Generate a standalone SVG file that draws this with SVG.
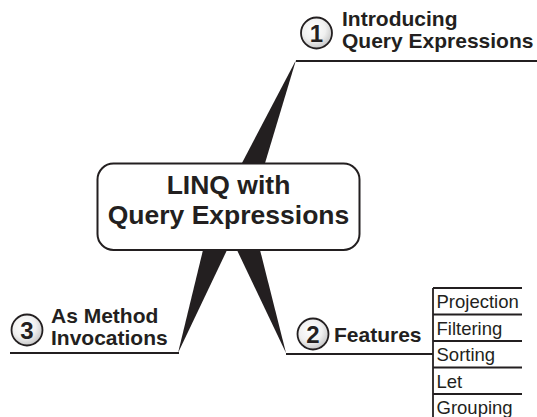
<svg xmlns="http://www.w3.org/2000/svg" width="537" height="417" viewBox="0 0 537 417">
<defs>
<radialGradient id="g" cx="0.42" cy="0.38" r="0.62">
<stop offset="0" stop-color="#ffffff"/>
<stop offset="0.6" stop-color="#f0f0f0"/>
<stop offset="1" stop-color="#c8c8c8"/>
</radialGradient>
</defs>
<style>
text{font-family:"Liberation Sans",Arial,sans-serif;fill:#231f20}
.t{font-size:21px;font-weight:bold}
.c{font-size:26.5px;font-weight:bold;text-anchor:middle}
.d{font-size:24px;font-weight:bold;text-anchor:middle}
.l{font-size:18.5px}
.num{fill:url(#g);stroke:#231f20;stroke-width:1.8}
.ln{stroke:#231f20;stroke-width:1.8;fill:none}
.w{fill:#231f20}
</style>
<g id="connectors">
<polygon class="w" points="296,60 222.6,200 253.9,200"/>
<polygon class="w" points="178,353 211.5,215 243.7,215"/>
<polygon class="w" points="286,353 220.3,215 251.2,215"/>
<line class="ln" x1="296" y1="61" x2="537" y2="61"/>
<line class="ln" x1="10" y1="353" x2="179" y2="353"/>
<line class="ln" x1="286" y1="354" x2="433" y2="354"/>
<line class="ln" x1="433" y1="288" x2="433" y2="417"/>
</g>
<g id="center">
<rect x="97.5" y="163.5" width="262" height="86.5" rx="16" fill="#ffffff" stroke="#231f20" stroke-width="2"/>
<text class="c" x="228.5" y="194">LINQ with</text>
<text class="c" x="228.5" y="224">Query Expressions</text>
</g>
<g id="node1">
<circle class="num" cx="316.5" cy="33" r="15.5"/>
<text class="d" x="316.5" y="41.5">1</text>
<text class="t" x="342" y="26">Introducing</text>
<text class="t" x="342" y="48">Query Expressions</text>
</g>
<g id="node3">
<circle class="num" cx="27" cy="330" r="15.5"/>
<text class="d" x="27" y="338.5">3</text>
<text class="t" x="51" y="323">As Method</text>
<text class="t" x="51" y="345">Invocations</text>
</g>
<g id="node2">
<circle class="num" cx="313" cy="334" r="15.5"/>
<text class="d" x="313" y="342.5">2</text>
<text class="t" x="334" y="342">Features</text>
</g>
<g id="features">
<line class="ln" x1="433" y1="288" x2="522" y2="288"/>
<line class="ln" x1="433" y1="314.5" x2="522" y2="314.5"/>
<line class="ln" x1="433" y1="341" x2="522" y2="341"/>
<line class="ln" x1="433" y1="367.5" x2="522" y2="367.5"/>
<line class="ln" x1="433" y1="394" x2="522" y2="394"/>
<text class="l" x="436.5" y="308">Projection</text>
<text class="l" x="436.5" y="334.5">Filtering</text>
<text class="l" x="436.5" y="361">Sorting</text>
<text class="l" x="436.5" y="387.5">Let</text>
<text class="l" x="436.5" y="414">Grouping</text>
</g>
</svg>
